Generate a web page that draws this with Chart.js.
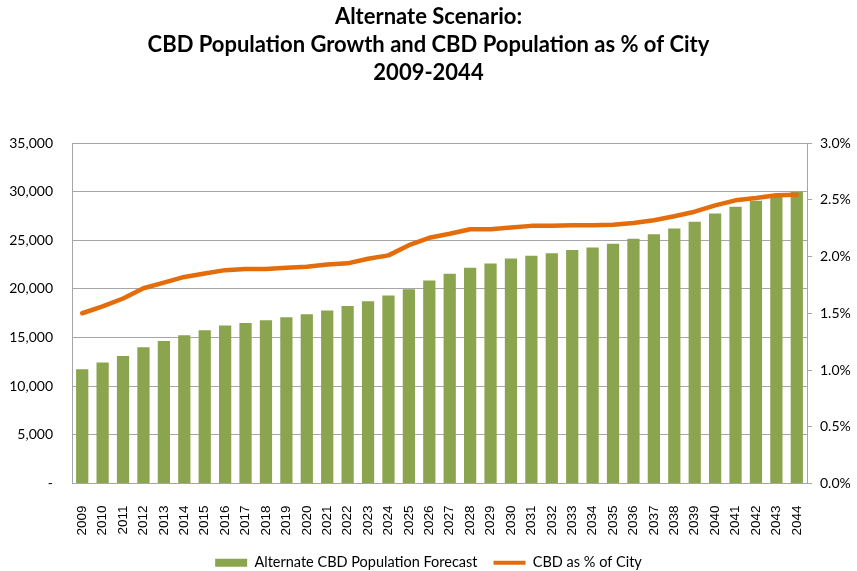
<!DOCTYPE html>
<html>
<head>
<meta charset="utf-8">
<script src="https://cdn.jsdelivr.net/npm/chart.js@4/dist/chart.umd.min.js"></script>
<style>
  html, body { margin: 0; padding: 0; background: #fff; }
  #wrap { width: 857px; height: 571px; }
</style>
</head>
<body>
<div id="wrap"><canvas id="cbd_chart" width="857" height="571"></canvas></div>
<script>
// CBD population forecast (bars) and CBD share of city population (line)
const years = ['2009', '2010', '2011', '2012', '2013', '2014', '2015', '2016', '2017', '2018',
  '2019', '2020', '2021', '2022', '2023', '2024', '2025', '2026', '2027', '2028',
  '2029', '2030', '2031', '2032', '2033', '2034', '2035', '2036', '2037', '2038',
  '2039', '2040', '2041', '2042', '2043', '2044'];

const populationForecast = [11750, 12450, 13100, 14000, 14650, 15250, 15750, 16230, 16500, 16780,
  17090, 17400, 17780, 18250, 18740, 19320, 19970, 20870, 21550, 22170,
  22620, 23130, 23400, 23680, 23990, 24260, 24640, 25150, 25630, 26220,
  26900, 27760, 28450, 29060, 29480, 29990];

const shareOfCity = [1.50, 1.56, 1.63, 1.72, 1.77, 1.82, 1.85, 1.88, 1.89, 1.89,
  1.90, 1.91, 1.93, 1.94, 1.98, 2.01, 2.10, 2.165, 2.20, 2.24,
  2.24, 2.255, 2.27, 2.27, 2.275, 2.275, 2.28, 2.295, 2.32, 2.355,
  2.395, 2.45, 2.495, 2.515, 2.54, 2.545];

const barLabel = 'Alternate CBD Population Forecast';
const lineLabel = 'CBD as % of City';
const titleLines = ['Alternate Scenario:', 'CBD Population Growth and CBD Population as % of City', '2009-2044'];

const barColor = '#8ba54f';
const lineColor = '#e46c0a';
const gridColor = '#a6a6a6';

const ctx = document.getElementById('cbd_chart');

new Chart(ctx, {
  data: {
    labels: years,
    datasets: [{
        type: 'line',
        label: lineLabel,
        data: shareOfCity,
        yAxisID: 'y1',
        borderColor: lineColor,
        borderWidth: 4.5,
        borderJoinStyle: 'round',
        borderCapStyle: 'round',
        tension: 0,
        pointRadius: 0,
        order: 0
      }, {
        type: 'bar',
        label: barLabel,
        data: populationForecast,
        yAxisID: 'y',
        backgroundColor: barColor,
        borderWidth: 0,
        categoryPercentage: 1.0,
        barPercentage: 0.6,
        order: 1
    }]
  },
  options: {
    responsive: false,
    animation: false,
    layout: {
      // legend sits low, close to the bottom edge
      padding: { top: 0, bottom: -9, left: 0, right: 0 }
    },
    plugins: {
      title: {
        display: true,
        text: titleLines,
        color: '#000',
        font: { family: 'Lato', weight: 'bold', size: 22, lineHeight: 1.273 },
        padding: { top: 3, bottom: 56 }
      },
      legend: {
        position: 'bottom',
        labels: {
          usePointStyle: true,
          pointStyleWidth: 32,
          boxHeight: 8,
          padding: 16,
          color: '#000',
          font: { family: 'Lato', size: 14.5 },
          generateLabels: () => [{
              text: barLabel,
              pointStyle: 'rect',
              fillStyle: barColor,
              strokeStyle: barColor,
              lineWidth: 0,
              datasetIndex: 1
            }, {
              text: lineLabel,
              pointStyle: 'line',
              fillStyle: lineColor,
              strokeStyle: lineColor,
              lineWidth: 4,
              datasetIndex: 0
          }]
        }
      },
      tooltip: { enabled: false }
    },
    scales: {
      x: {
        grid: { display: false },
        border: { display: true, color: gridColor },
        ticks: {
          minRotation: 90,
          maxRotation: 90,
          padding: 14,
          color: '#000',
          font: { family: 'Liberation Sans', size: 13.5 }
        },
        afterFit: (scale) => { scale.height = 56; }
      },
      y: {
        position: 'left',
        min: 0,
        max: 35000,
        grid: { color: gridColor, drawTicks: false },
        border: { display: true, color: gridColor },
        ticks: {
          stepSize: 5000,
          padding: 19,
          color: '#000',
          font: { family: 'Lato', size: 14 },
          callback: (value) => value === 0 ? '-' : value.toLocaleString('en-US')
        },
        afterFit: (scale) => { scale.width = 72; }
      },
      y1: {
        position: 'right',
        min: 0,
        max: 3,
        grid: { drawOnChartArea: false, color: gridColor, tickLength: 5 },
        border: { display: true, color: gridColor },
        ticks: {
          stepSize: 0.5,
          padding: 8,
          color: '#000',
          font: { family: 'Lato', size: 14 },
          callback: (value) => value.toFixed(1) + '%'
        },
        afterFit: (scale) => { scale.width = 50; }
      }
    }
  }
});
</script>
</body>
</html>
